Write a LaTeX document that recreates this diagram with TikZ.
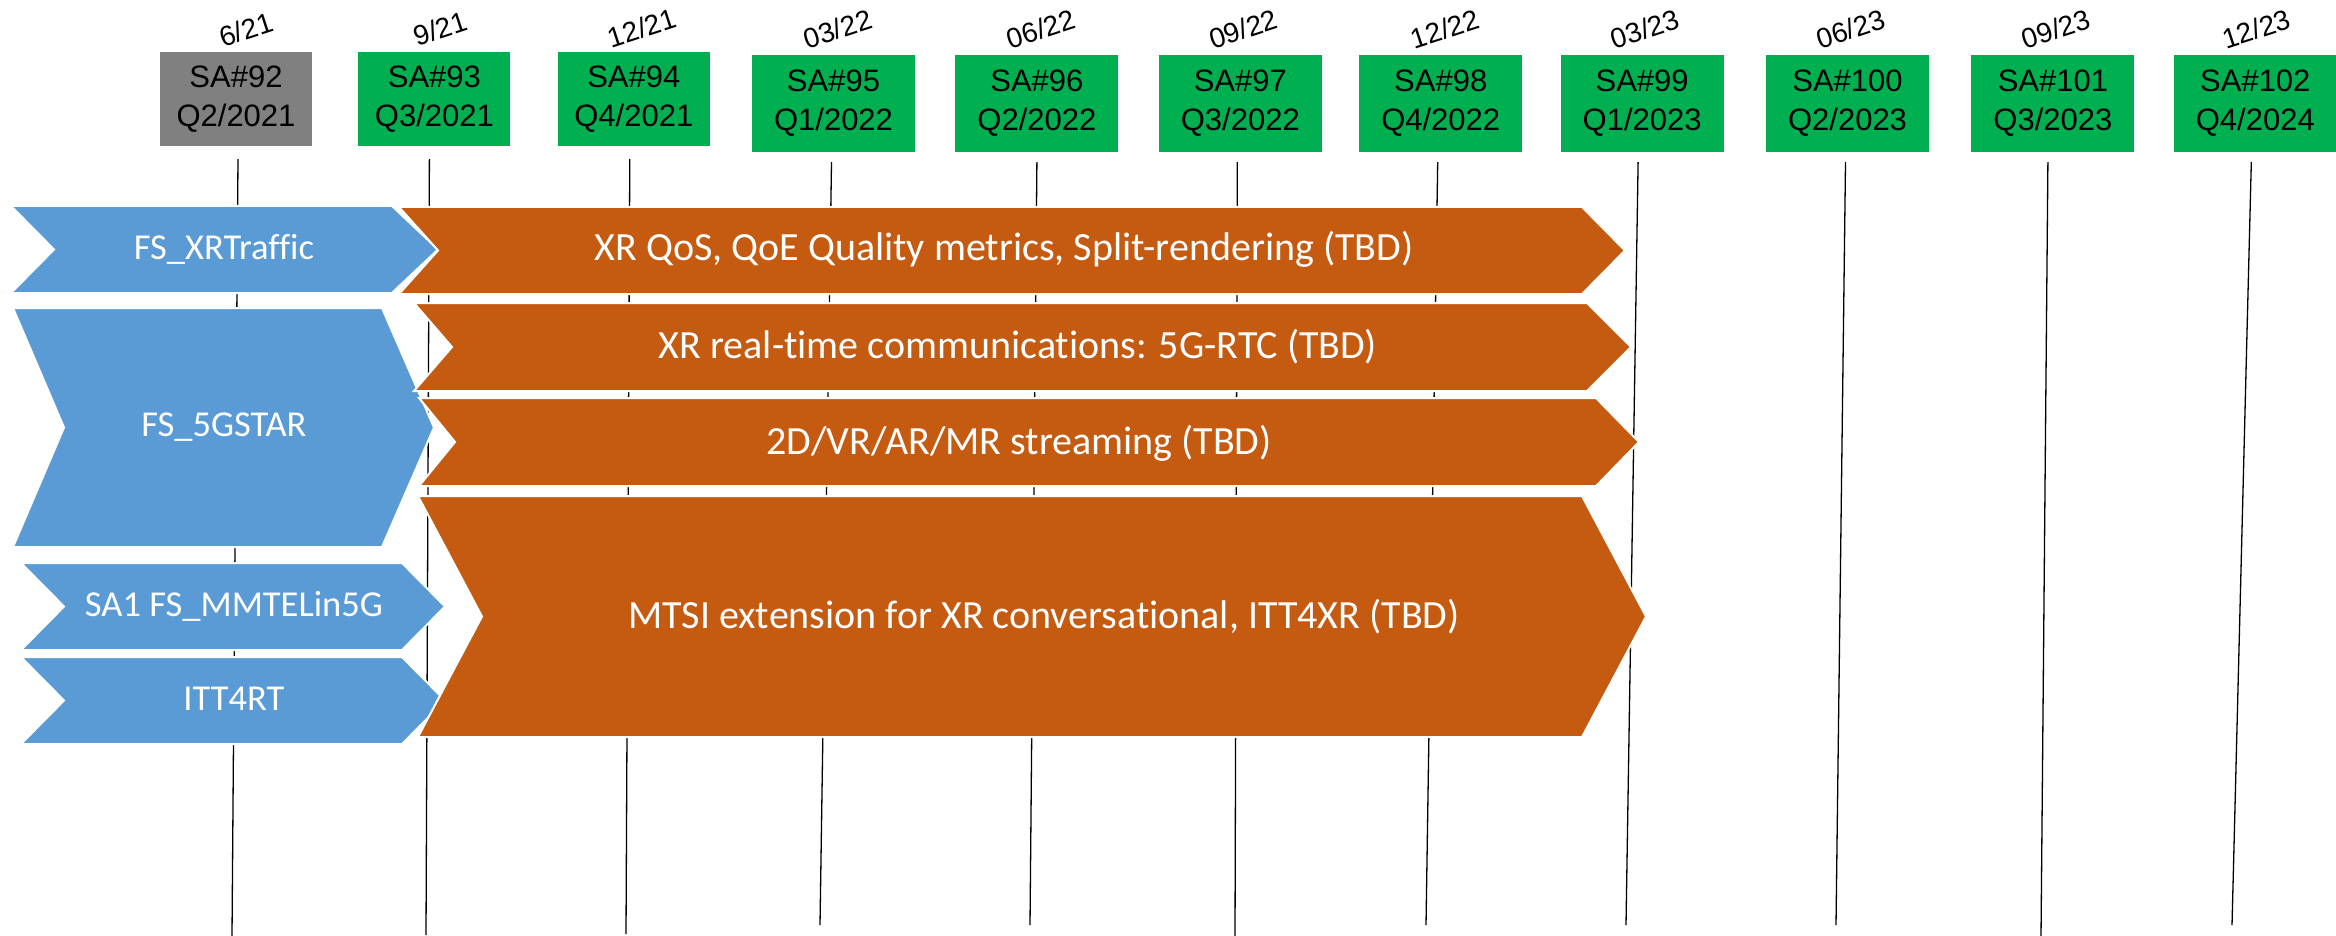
\documentclass[tikz,border=0pt]{standalone}
\usepackage{fontspec}
\setmainfont{Liberation Sans}
\newfontfamily\barfont[Ligatures=CommonOff]{Carlito}
\usepackage{tikz}
\usetikzlibrary{positioning}
\definecolor{saGreen}{HTML}{00B050}
\definecolor{saGrey}{HTML}{808080}
\definecolor{fsBlue}{HTML}{5B9BD5}
\definecolor{wiOrange}{HTML}{C55A11}
\tikzstyle{meeting} = [fill=saGreen, minimum width=163pt, minimum height=97pt,
        inner sep=0pt, align=center, font={\fontsize{31}{39}\selectfont}]
\tikzstyle{early} = [meeting, minimum width=152pt, minimum height=94pt]
\tikzstyle{past} = [early, fill=saGrey]
\tikzstyle{date} = [rotate=18, inner sep=0pt, font={\fontsize{28}{34}\selectfont}]
\tikzstyle{tick} = [draw=black, line width=1.3pt]
\tikzstyle{study} = [fill=fsBlue, draw=white, line width=2pt]
\tikzstyle{work} = [fill=wiOrange, draw=white, line width=2pt]
\tikzstyle{barText} = [text=white, inner sep=0pt, font={\barfont\fontsize{36.5}{40}\selectfont}]
\tikzstyle{wiText} = [barText, font={\barfont\fontsize{40}{44}\selectfont}]
% chevron: style, left x, corner x, top y, bottom y, notch x, tip x
\newcommand{\chevron}[7]{\path[#1] (#2,#4) -- (#3,#4) -- (#7,{(#4+#5)/2})
        -- (#3,#5) -- (#2,#5) -- (#6,{(#4+#5)/2}) -- cycle;}

\begin{document}
\begin{tikzpicture}[x=1pt, y=-1pt]
            \useasboundingbox (0,0) rectangle (2336,936);
            % meetings
            \node [past] (sa92) at (236,99) {SA\#92\\Q2/2021};
            \node [early, right=46pt of sa92] (sa93) {SA\#93\\Q3/2021};
            \node [early, right=47pt of sa93] (sa94) {SA\#94\\Q4/2021};
            \node [meeting] (sa95) at (833.5,103.5) {SA\#95\\Q1/2022};
            \node [meeting, right=40pt of sa95] (sa96) {SA\#96\\Q2/2022};
            \node [meeting, right=40pt of sa96] (sa97) {SA\#97\\Q3/2022};
            \node [meeting, right=37pt of sa97] (sa98) {SA\#98\\Q4/2022};
            \node [meeting, right=38pt of sa98] (sa99) {SA\#99\\Q1/2023};
            \node [meeting, right=42pt of sa99] (sa100) {SA\#100\\Q2/2023};
            \node [meeting, right=42pt of sa100] (sa101) {SA\#101\\Q3/2023};
            \node [meeting, right=39pt of sa101] (sa102) {SA\#102\\Q4/2024};
            % dates
            \node [date] (d92) at ([xshift=10pt, yshift=22pt]sa92.north) {6/21};
            \node [date] (d93) at ([xshift=6pt, yshift=23pt]sa93.north) {9/21};
            \node [date] (d94) at ([xshift=8pt, yshift=24pt]sa94.north) {12/21};
            \node [date] (d95) at ([xshift=4pt, yshift=26pt]sa95.north) {03/22};
            \node [date] (d96) at ([xshift=4pt, yshift=26pt]sa96.north) {06/22};
            \node [date] (d97) at ([xshift=3pt, yshift=26pt]sa97.north) {09/22};
            \node [date] (d98) at ([xshift=4pt, yshift=26pt]sa98.north) {12/22};
            \node [date] (d99) at ([xshift=3pt, yshift=26pt]sa99.north) {03/23};
            \node [date] (d100) at ([xshift=3pt, yshift=26pt]sa100.north) {06/23};
            \node [date] (d101) at ([xshift=3pt, yshift=26pt]sa101.north) {09/23};
            \node [date] (d102) at ([xshift=1pt, yshift=26pt]sa102.north) {12/23};
            % ticks
            \draw [tick] ([xshift=2pt, yshift=-13pt]sa92.south) -- (232,936);
            \draw [tick] ([xshift=-5pt, yshift=-13pt]sa93.south) -- (426,935);
            \draw [tick] ([xshift=-4pt, yshift=-13pt]sa94.south) -- (626,934);
            \draw [tick] ([xshift=-2pt, yshift=-10pt]sa95.south) -- (820,925);
            \draw [tick] ([yshift=-10pt]sa96.south) -- (1030,925);
            \draw [tick] ([xshift=-3pt, yshift=-10pt]sa97.south) -- (1235,936);
            \draw [tick] ([xshift=-3pt, yshift=-10pt]sa98.south) -- (1426,925);
            \draw [tick] ([xshift=-4pt, yshift=-10pt]sa99.south) -- (1626,925);
            \draw [tick] ([xshift=-2pt, yshift=-10pt]sa100.south) -- (1836,925);
            \draw [tick] ([xshift=-5pt, yshift=-10pt]sa101.south) -- (2041,936);
            \draw [tick] ([xshift=-4pt, yshift=-10pt]sa102.south) -- (2232,925);
            % feasibility studies
            \chevron{study}{11}{392}{206}{293}{54}{438}
            \chevron{study}{13}{382}{308}{547}{64}{434}
            \chevron{study}{21}{402}{563}{650}{64}{445}
            \chevron{study}{21}{402}{657}{744}{64}{445}
            % work items
            \chevron{work}{399}{1582}{207}{294}{438}{1625}
            \chevron{work}{414}{1587}{303}{391}{452}{1631}
            \chevron{work}{419}{1596}{398}{486}{455}{1639}
            \chevron{work}{418}{1582}{496}{737}{482}{1646}
            \node [barText] (xrtraffic) at (224,249) {FS\_XRTraffic};
            \node [barText] (gstar) at (224,427) {FS\_5GSTAR};
            \node [barText] (mmtel) at (234,606) {SA1 FS\_MMTELin5G};
            \node [barText] (itt4rt) at (234,699) {ITT4RT};
            \node [wiText] (xrqos) at (1004,249) {XR QoS, QoE Quality metrics, Split-rendering (TBD)};
            \node [wiText] (xrrtc) at (1018,347) {XR real-time communications: 5G-RTC (TBD)};
            \node [wiText] (streaming) at (1019,443) {2D/VR/AR/MR streaming (TBD)};
            \node [wiText] (mtsi) at (1044,617) {MTSI extension for XR conversational, ITT4XR (TBD)};
\end{tikzpicture}
\end{document}
